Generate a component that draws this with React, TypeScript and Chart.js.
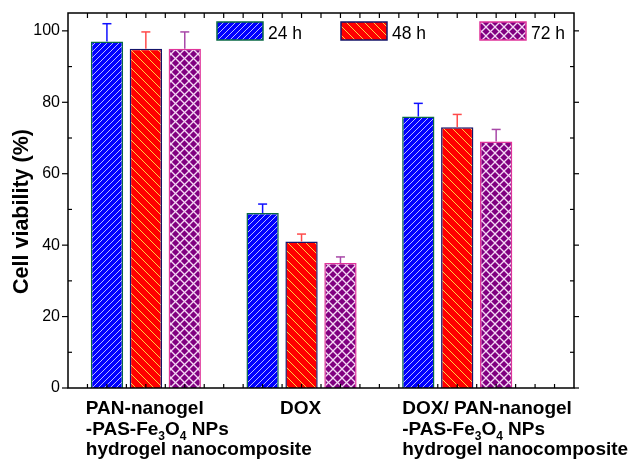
import React, { useEffect, useRef } from 'react';
import { Chart, registerables } from 'chart.js';

Chart.register(...registerables);

// ---------- data ----------
const categories = [
  ['PAN-nanogel', '-PAS-Fe₃O₄ NPs', 'hydrogel nanocomposite'],
  ['DOX'],
  ['DOX/ PAN-nanogel', '-PAS-Fe₃O₄ NPs', 'hydrogel nanocomposite'],
];
const seriesNames = ['24 h', '48 h', '72 h'];
const viability24 = [97, 49, 76];
const viability48 = [95, 41, 73];
const viability72 = [95, 35, 69];
const error24 = [5, 2.5, 3.7];
const error48 = [4.7, 2.1, 3.6];
const error72 = [4.7, 1.7, 3.4];
const yTicks = [0, 20, 40, 60, 80, 100];
const yMinorTicks = [10, 30, 50, 70, 90];
const yTitle = 'Cell viability (%)';

// ---------- layout / style ----------
const FONT = '"Liberation Sans", Arial, Helvetica, sans-serif';
const xPositions = categories.map((_, i) => i + 1);
const X_MIN = 0.5;
const X_MAX = 3.75;
const X_TICK_STEP = 0.125;
const Y_MIN = 0;
const Y_MAX = 105;
const seriesValues = [viability24, viability48, viability72];
const seriesErrors = [error24, error48, error72];
const borderColors = ['#0a6a45', '#14146a', '#e0359a'];
const errorColors = ['#1010ff', '#ff4a4a', '#a848a8'];
const legendOffsets = [149, 273, 412];
const labelAnchors = [
  { align: 'left', dx: -60 },
  { align: 'center', dx: -1 },
  { align: 'left', dx: -55 },
];

const SUB_MAP: Record<string, string> = {
  '₀': '0', '₁': '1', '₂': '2', '₃': '3', '₄': '4',
  '₅': '5', '₆': '6', '₇': '7', '₈': '8', '₉': '9',
};

function makePattern(kind: string, bg: string, fg: string, size: number, lw: number) {
  const c = document.createElement('canvas');
  c.width = size;
  c.height = size;
  const g = c.getContext('2d')!;
  g.fillStyle = bg;
  g.fillRect(0, 0, size, size);
  g.strokeStyle = fg;
  g.lineWidth = lw;
  const seg = (x0: number, y0: number, x1: number, y1: number) => {
    g.beginPath();
    g.moveTo(x0, y0);
    g.lineTo(x1, y1);
    g.stroke();
  };
  if (kind === 'fwd' || kind === 'cross') {
    seg(-1, size + 1, size + 1, -1);
    seg(-1, 1, 1, -1);
    seg(size - 1, size + 1, size + 1, size - 1);
  }
  if (kind === 'back' || kind === 'cross') {
    seg(-1, -1, size + 1, size + 1);
    seg(size - 1, -1, size + 1, 1);
    seg(-1, size - 1, 1, size + 1);
  }
  return g.createPattern(c, 'repeat')!;
}

function richWidth(ctx: CanvasRenderingContext2D, text: string, size: number, subSize: number) {
  let w = 0;
  for (const ch of Array.from(text)) {
    if (SUB_MAP[ch]) {
      ctx.font = `bold ${subSize}px ${FONT}`;
      w += ctx.measureText(SUB_MAP[ch]).width;
    } else {
      ctx.font = `bold ${size}px ${FONT}`;
      w += ctx.measureText(ch).width;
    }
  }
  return w;
}

function drawRich(ctx: CanvasRenderingContext2D, text: string, x: number, y: number, align: string, size: number) {
  const subSize = Math.round(size * 0.62);
  let cx = x;
  if (align === 'center') cx = x - richWidth(ctx, text, size, subSize) / 2;
  ctx.textAlign = 'left';
  ctx.textBaseline = 'alphabetic';
  let run = '';
  const flush = () => {
    if (!run) return;
    ctx.font = `bold ${size}px ${FONT}`;
    ctx.fillText(run, cx, y);
    cx += ctx.measureText(run).width;
    run = '';
  };
  for (const ch of Array.from(text)) {
    if (SUB_MAP[ch]) {
      flush();
      ctx.font = `bold ${subSize}px ${FONT}`;
      ctx.fillText(SUB_MAP[ch], cx, y + 5);
      cx += ctx.measureText(SUB_MAP[ch]).width;
    } else {
      run += ch;
    }
  }
  flush();
}

export default function App() {
  const canvasRef = useRef<HTMLCanvasElement | null>(null);

  useEffect(() => {
    const canvas = canvasRef.current;
    if (!canvas) return;

    const patterns = [
      makePattern('fwd', '#0000ff', '#b8b8ff', 6, 1),
      makePattern('back', '#ff0000', '#ffe84a', 9, 0.9),
      makePattern('cross', '#800080', '#f4d8f4', 9, 1.3),
    ];

    const line = (ctx: CanvasRenderingContext2D, x0: number, y0: number, x1: number, y1: number) => {
      ctx.beginPath();
      ctx.moveTo(x0, y0);
      ctx.lineTo(x1, y1);
      ctx.stroke();
    };

    const errorBarPlugin = {
      id: 'errorBars',
      afterDatasetsDraw(chart: any) {
        const { ctx } = chart;
        const y = chart.scales.y;
        ctx.save();
        ctx.lineWidth = 1.5;
        seriesValues.forEach((vals, si) => {
          const meta = chart.getDatasetMeta(si);
          ctx.strokeStyle = errorColors[si];
          meta.data.forEach((bar: any, j: number) => {
            const yTop = y.getPixelForValue(vals[j] + seriesErrors[si][j]);
            line(ctx, bar.x, bar.y, bar.x, yTop);
            line(ctx, bar.x - 4.5, yTop, bar.x + 4.5, yTop);
          });
        });
        ctx.restore();
      },
    };

    const decorPlugin = {
      id: 'decor',
      afterDraw(chart: any) {
        const { ctx, chartArea: a } = chart;
        const x = chart.scales.x;
        const y = chart.scales.y;
        ctx.save();
        // frame
        ctx.strokeStyle = '#000';
        ctx.lineWidth = 1.5;
        ctx.strokeRect(a.left, a.top, a.right - a.left, a.bottom - a.top);
        ctx.lineWidth = 1.2;
        yTicks.forEach((v) => {
          const py = y.getPixelForValue(v);
          line(ctx, a.left - 6, py, a.left, py);
          line(ctx, a.right, py, a.right + 5, py);
        });
        yMinorTicks.forEach((v) => {
          const py = y.getPixelForValue(v);
          line(ctx, a.left, py, a.left + 4, py);
          line(ctx, a.right - 4, py, a.right, py);
        });
        for (let v = X_MIN + X_TICK_STEP; v < X_MAX - 1e-9; v += X_TICK_STEP) {
          const px = x.getPixelForValue(v);
          line(ctx, px, a.top, px, a.top + 5);
          line(ctx, px, a.bottom - 4, px, a.bottom);
        }

        // y title
        ctx.fillStyle = '#000';
        ctx.save();
        ctx.translate(22.5, (a.top + a.bottom) / 2 + 11);
        ctx.rotate(-Math.PI / 2);
        ctx.font = `bold 21.5px ${FONT}`;
        ctx.textAlign = 'center';
        ctx.textBaseline = 'middle';
        ctx.fillText(yTitle, 0, 0);
        ctx.restore();

        // category labels
        const lineGap = 20.5;
        categories.forEach((lines, i) => {
          const anchor = labelAnchors[i];
          const px = x.getPixelForValue(xPositions[i]) + anchor.dx;
          lines.forEach((t, k) => {
            drawRich(ctx, t, px, a.bottom + 26 + k * lineGap, anchor.align, 19);
          });
        });

        // legend
        seriesNames.forEach((name, i) => {
          const lx = a.left + legendOffsets[i];
          const ly = a.top + 9;
          ctx.fillStyle = patterns[i];
          ctx.fillRect(lx, ly, 46, 18);
          ctx.strokeStyle = borderColors[i];
          ctx.lineWidth = 1.5;
          ctx.strokeRect(lx, ly, 46, 18);
          ctx.fillStyle = '#000';
          ctx.font = `17.5px ${FONT}`;
          ctx.textAlign = 'left';
          ctx.textBaseline = 'alphabetic';
          ctx.fillText(name, lx + 51, ly + 17);
        });
        ctx.restore();
      },
    };

    const chart = new Chart(canvas, {
      type: 'bar',
      data: {
        labels: xPositions,
        datasets: seriesNames.map((name, i) => ({
          label: name,
          data: seriesValues[i],
          backgroundColor: patterns[i],
          borderColor: borderColors[i],
          borderWidth: 1.5,
          borderSkipped: 'bottom',
          categoryPercentage: 0.75,
          barPercentage: 0.83,
        })),
      },
      options: {
        responsive: true,
        maintainAspectRatio: false,
        animation: false,
        devicePixelRatio: 1,
        layout: { padding: { left: 0, top: 13, right: 56, bottom: 0 } },
        plugins: {
          legend: { display: false },
          tooltip: { enabled: false },
          title: { display: false },
        },
        scales: {
          x: {
            type: 'linear',
            min: X_MIN,
            max: X_MAX,
            offset: false,
            grid: { display: false, drawTicks: false },
            border: { display: false },
            ticks: { display: false },
            afterBuildTicks: (s: any) => {
              s.ticks = xPositions.map((v) => ({ value: v }));
            },
            afterFit: (s: any) => {
              s.height = 71;
              s.paddingLeft = 0;
              s.paddingRight = 0;
            },
          },
          y: {
            type: 'linear',
            min: Y_MIN,
            max: Y_MAX,
            grid: { display: false, drawTicks: false },
            border: { display: false },
            ticks: {
              color: '#000',
              padding: 8,
              font: { family: FONT, size: 16 },
            },
            afterBuildTicks: (s: any) => {
              s.ticks = yTicks.map((v) => ({ value: v }));
            },
            afterFit: (s: any) => {
              s.width = 68;
              s.paddingTop = 0;
              s.paddingBottom = 0;
            },
          },
        },
      } as any,
      plugins: [errorBarPlugin, decorPlugin],
    });

    return () => chart.destroy();
  }, []);

  return (
    <div style={{ position: 'fixed', left: 0, top: 0, width: 630, height: 459, background: '#fff' }}>
      <canvas ref={canvasRef} />
    </div>
  );
}
